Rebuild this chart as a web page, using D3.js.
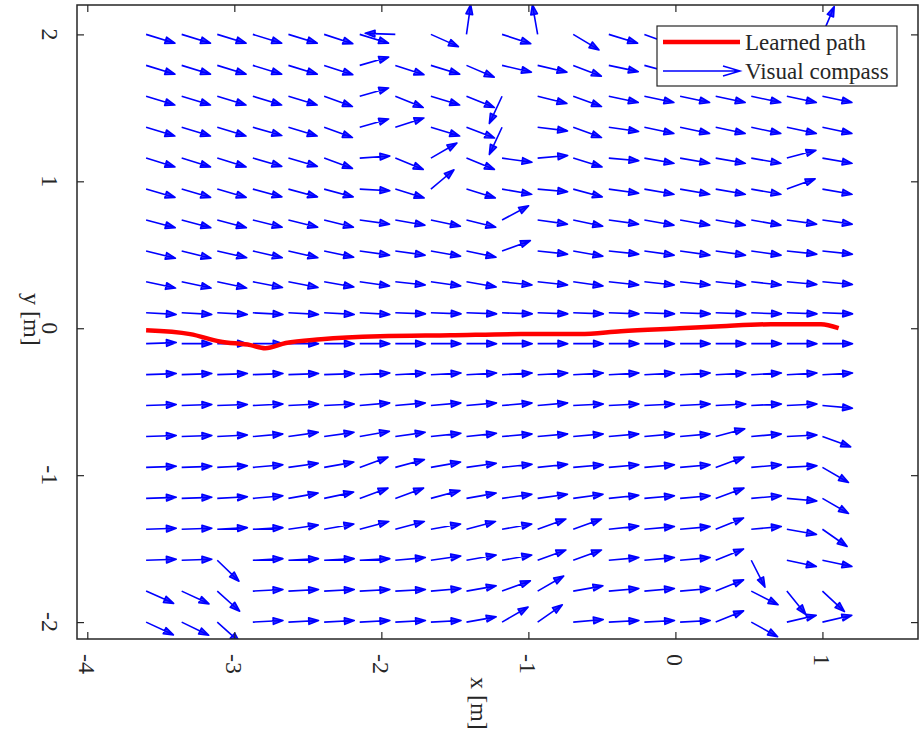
<!DOCTYPE html>
<html><head><meta charset="utf-8">
<script src="https://cdn.jsdelivr.net/npm/d3@7"></script>
<style>body{margin:0;background:#fff} svg{display:block}</style>
</head><body>
<svg id="chart" width="924" height="736"></svg>
<script>
// ---------- data ----------
const xTicks = [-4, -3, -2, -1, 0, 1];
const yTicks = [-2, -1, 0, 1, 2];
const gridX = [-3.6, -3.358, -3.116, -2.874, -2.632, -2.389, -2.147, -1.905, -1.663, -1.421,
               -1.179, -0.937, -0.695, -0.453, -0.211, 0.032, 0.274, 0.516, 0.758, 1.0];
const gridY = [2.0, 1.789, 1.579, 1.368, 1.158, 0.947, 0.737, 0.526, 0.316, 0.105,
               -0.105, -0.316, -0.526, -0.737, -0.947, -1.158, -1.368, -1.579, -1.789, -2.0];
// visual compass heading (degrees) per grid cell, rows top (y=2) to bottom (y=-2), columns left to right
const headingDeg = [
 [-17,-17,-17,-17,-17,-18,-17,178,-24,82,-18,100,-31,-17,-20,-15,-15,-15,-15,67],
 [-17,-17,-17,-17,-17,-18,16,-18,-17,-23,-13,-13,-21,-12,-15,-15,-15,-15,-15,-15],
 [-17,-17,-17,-17,-17,-20,16,-22,-17,-22,-115,-14,-20,-12,-12,-12,-12,-12,-12,-12],
 [-17,-17,-17,-16,-17,-20,16,18,-17,-21,-115,-7,-20,-8,-12,-12,-12,-12,-12,-12],
 [-17,-17,-17,-16,-16,-20,4,-22,30,-22,-8,5,-17,-5,-10,-10,-10,-10,15,-10],
 [-16,-16,-16,-15,-15,-15,-3,-17,40,-17,-10,-5,-15,-8,-10,-10,-10,-10,20,-10],
 [-15,-15,-15,-14,-14,-14,-8,-10,-12,-14,28,-8,-12,-8,-10,-10,-10,-10,-8,-8],
 [-14,-14,-13,-13,-13,-12,-8,-8,-10,-12,20,-6,-10,-6,-8,-8,-8,-8,-6,-6],
 [-12,-12,-12,-11,-11,-10,-8,-6,-8,-10,-6,-6,-8,-6,-6,-6,-6,-6,-5,-5],
 [-3,-3,-3,-3,-3,-3,-3,-2,-2,-2,-2,-2,-2,-2,-2,-2,-2,-2,-2,-2],
 [2,0,0,0,0,0,0,0,0,0,0,0,0,0,0,0,0,0,0,0],
 [2,2,2,2,2,2,3,3,3,3,3,3,3,3,3,3,3,3,3,3],
 [2,2,2,3,3,3,5,5,5,5,5,5,3,3,3,3,3,3,3,-5],
 [2,2,3,5,8,8,10,8,6,6,5,5,5,5,5,5,15,5,3,-20],
 [2,2,3,5,8,10,20,15,10,8,6,6,5,5,5,5,20,5,3,-30],
 [2,2,3,5,10,12,20,20,15,10,8,8,8,6,5,5,20,5,-5,-30],
 [2,2,3,3,8,10,15,15,10,15,10,20,20,6,5,5,22,5,-10,-35],
 [2,2,-44,3,3,3,3,5,8,10,10,20,20,5,5,5,22,-63,-12,-12],
 [-24,-25,-42,3,3,3,3,3,5,10,20,30,10,5,5,5,22,-27,-51,-43],
 [-25,-26,-42,3,3,3,3,3,3,10,30,35,5,3,3,3,22,-29,13,13]
];
const pathX = [-3.6, -3.3, -3.1, -2.89, -2.79, -2.65, -2.41, -2.01, -1.53, -1.05, -0.65, -0.37, 0.03, 0.31, 0.65, 0.99, 1.11];
const pathY = [-0.014, -0.04, -0.09, -0.115, -0.136, -0.10, -0.075, -0.055, -0.048, -0.04, -0.04, -0.02, 0.0, 0.014, 0.027, 0.027, 0.0];
const legendLabels = ["Learned path", "Visual compass"];
const axisTitles = {x: "x [m]", y: "y [m]"};

// ---------- layout ----------
const W = 924, H = 736;
const plot = {left: 77, right: 918, top: 5, bottom: 639};
const ink = "#262626";
const font = "'Liberation Serif', 'Times New Roman', serif";

const sx = d3.scaleLinear().domain([-4.07, 1.65]).range([plot.left, plot.right]);
const sy = d3.scaleLinear().domain([-2.115, 2.2]).range([plot.bottom, plot.top]);

const svg = d3.select("#chart");
svg.append("rect").attr("width", W).attr("height", H).attr("fill", "#fff");

svg.append("clipPath").attr("id", "plotclip").append("rect")
  .attr("x", plot.left).attr("y", plot.top)
  .attr("width", plot.right - plot.left).attr("height", plot.bottom - plot.top);

// ---------- quiver ----------
const arrows = [];
gridY.forEach((y, i) => gridX.forEach((x, j) => arrows.push({x, y, a: headingDeg[i][j]})));
const L = 0.205, HL = 0.07, HA = 19 * Math.PI / 180;
function arrowPath(d) {
  const t = d.a * Math.PI / 180;
  const x2 = d.x + L * Math.cos(t), y2 = d.y + L * Math.sin(t);
  const b1x = x2 - HL * Math.cos(t - HA), b1y = y2 - HL * Math.sin(t - HA);
  const b2x = x2 - HL * Math.cos(t + HA), b2y = y2 - HL * Math.sin(t + HA);
  return `M${sx(d.x)},${sy(d.y)}L${sx(x2)},${sy(y2)}` +
         `M${sx(b1x)},${sy(b1y)}L${sx(x2)},${sy(y2)}L${sx(b2x)},${sy(b2y)}Z`;
}
const gData = svg.append("g").attr("clip-path", "url(#plotclip)");
gData.selectAll("path.arrow").data(arrows).join("path")
  .attr("class", "arrow")
  .attr("d", arrowPath)
  .attr("fill", "#0000ff").attr("fill-opacity", 0.8).attr("stroke", "#0000ff")
  .attr("stroke-width", 1.6).attr("stroke-linejoin", "round");

// ---------- learned path ----------
const pathPts = pathX.map((x, i) => [x, pathY[i]]);
gData.append("path")
  .attr("d", d3.line().curve(d3.curveMonotoneX).x(d => sx(d[0])).y(d => sy(d[1]))(pathPts))
  .attr("fill", "none").attr("stroke", "#ff0000").attr("stroke-width", 4.5)
  .attr("stroke-linejoin", "round");

// ---------- axes ----------
const tickLen = 7;
function styleAxis(g) {
  g.select(".domain").remove();
  g.selectAll(".tick line").attr("stroke", ink).attr("stroke-width", 1.2);
}
svg.append("g").attr("transform", `translate(0,${plot.bottom})`)
  .call(d3.axisBottom(sx).tickValues(xTicks).tickSizeInner(-tickLen).tickSizeOuter(0).tickFormat(""))
  .call(styleAxis);
svg.append("g").attr("transform", `translate(0,${plot.top})`)
  .call(d3.axisTop(sx).tickValues(xTicks).tickSizeInner(-tickLen).tickSizeOuter(0).tickFormat(""))
  .call(styleAxis);
svg.append("g").attr("transform", `translate(${plot.left},0)`)
  .call(d3.axisLeft(sy).tickValues(yTicks).tickSizeInner(-tickLen).tickSizeOuter(0).tickFormat(""))
  .call(styleAxis);
svg.append("g").attr("transform", `translate(${plot.right},0)`)
  .call(d3.axisRight(sy).tickValues(yTicks).tickSizeInner(-tickLen).tickSizeOuter(0).tickFormat(""))
  .call(styleAxis);

svg.append("rect")
  .attr("x", plot.left).attr("y", plot.top)
  .attr("width", plot.right - plot.left).attr("height", plot.bottom - plot.top)
  .attr("fill", "none").attr("stroke", ink).attr("stroke-width", 1.5);

// tick labels (rotated like the reference)
svg.append("g").selectAll("text").data(xTicks).join("text")
  .attr("transform", d => `translate(${sx(d) - 8},654) rotate(90)`)
  .attr("text-anchor", "start")
  .attr("font-family", font).attr("font-size", 24).attr("fill", ink)
  .text(d => String(d));
svg.append("g").selectAll("text").data(yTicks).join("text")
  .attr("transform", d => `translate(42,${sy(d)}) rotate(90)`)
  .attr("text-anchor", "middle")
  .attr("font-family", font).attr("font-size", 24).attr("fill", ink)
  .text(d => String(d));

svg.append("text")
  .attr("transform", "translate(471,677) rotate(90)")
  .attr("text-anchor", "start")
  .attr("font-family", font).attr("font-size", 24).attr("fill", ink)
  .text(axisTitles.x);
svg.append("text")
  .attr("transform", "translate(24,293) rotate(90)")
  .attr("text-anchor", "start")
  .attr("font-family", font).attr("font-size", 24).attr("fill", ink)
  .text(axisTitles.y);

// ---------- legend ----------
const lg = svg.append("g");
lg.append("rect").attr("x", 657).attr("y", 26).attr("width", 240).attr("height", 60)
  .attr("fill", "#fff").attr("stroke", ink).attr("stroke-width", 1.2);
lg.append("line").attr("x1", 663).attr("x2", 740).attr("y1", 42).attr("y2", 42)
  .attr("stroke", "#ff0000").attr("stroke-width", 4.5);
lg.append("path")
  .attr("d", "M663,71L740,71M723,66L740,71L723,76")
  .attr("fill", "none").attr("stroke", "#0000ff").attr("stroke-width", 1.5);
lg.selectAll("text").data(legendLabels).join("text")
  .attr("x", 745).attr("y", (d, i) => 50 + i * 29)
  .attr("font-family", font).attr("font-size", 23).attr("fill", ink)
  .text(d => d);
</script>
</body></html>
